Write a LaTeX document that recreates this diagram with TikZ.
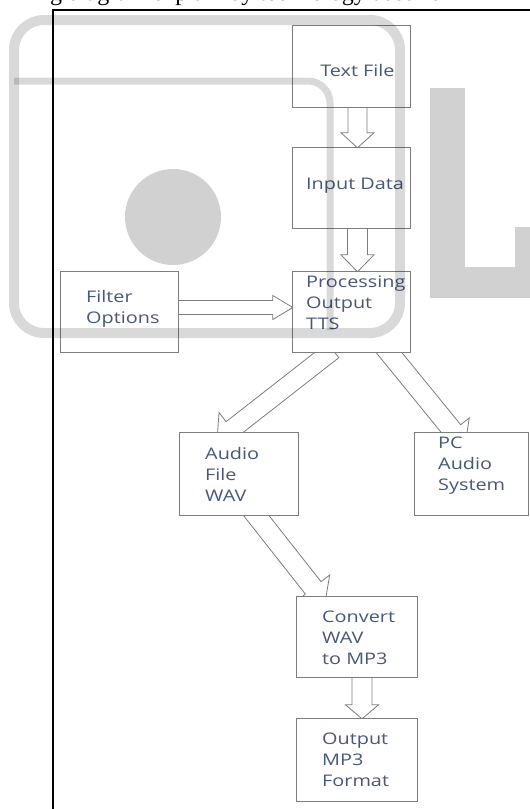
\documentclass[tikz,border=0pt]{standalone}
\usepackage{fontspec}
\setmainfont{Open Sans}[FakeStretch=1.24]
\newfontfamily\serifx{Liberation Serif}
\usetikzlibrary{calc}

\definecolor{boxline}{RGB}{125,125,125}
\definecolor{txt}{RGB}{72,88,120}

\tikzset{
  box/.style={draw=boxline, line width=0.9pt, fill=white, inner sep=0pt},
  lbl/.style={text=txt, font=\fontsize{16}{21}\selectfont, align=left, inner sep=0pt},
  barrow/.style={draw=boxline, line width=0.8pt, fill=white, line join=miter},
  wmline/.style={draw=black, opacity=0.15},
  wmfill/.style={fill=black, opacity=0.18},
}

% block arrow: #1 start, #2 tip, #3 shaft half width, #4 head half width, #5 head length
\newcommand\blockarrow[5]{%
  \coordinate (baC) at ($(#2)!#5pt!(#1)$);
  \draw[barrow] ($(#1)!#3pt!90:(#2)$) -- ($(baC)!#3pt!-90:(#1)$) -- ($(baC)!#4pt!-90:(#1)$)
     -- (#2) -- ($(baC)!#4pt!90:(#1)$) -- ($(baC)!#3pt!90:(#1)$) -- ($(#1)!#3pt!-90:(#2)$) -- cycle;
}

\begin{document}
\begin{tikzpicture}[x=1pt, y=-1pt]
\useasboundingbox (0,0) rectangle (530,809);

% cut-off line of text above the frame: only its descenders fall inside the page
\node[anchor=base west, inner sep=0pt, outer sep=0pt] (toptext) at (38,0.5)
  {\serifx\fontsize{24}{28}\selectfont ng diagram explain by technology used for};

% frame
\draw[line width=1.4pt] (53,810) -- (53,10) -- (531,10);

% box placeholders
\coordinate (tfc) at (351.5,66.5);
\coordinate (inc) at (351.5,188);
\coordinate (prc) at (351.5,312);
\coordinate (flc) at (119.5,312);
\coordinate (auc) at (239,474);
\coordinate (pcc) at (471.5,474);
\coordinate (cvc) at (357,637);
\coordinate (otc) at (357,760);

\path (tfc) node[minimum width=117pt, minimum height=81pt, inner sep=0pt] (tf) {};
\path (inc) node[minimum width=117pt, minimum height=80pt, inner sep=0pt] (in) {};
\path (prc) node[minimum width=117pt, minimum height=80pt, inner sep=0pt] (proc) {};
\path (flc) node[minimum width=117pt, minimum height=80pt, inner sep=0pt] (filt) {};
\path (auc) node[minimum width=118pt, minimum height=82pt, inner sep=0pt] (audio) {};
\path (pcc) node[minimum width=113pt, minimum height=82pt, inner sep=0pt] (pc) {};
\path (cvc) node[minimum width=120pt, minimum height=80pt, inner sep=0pt] (conv) {};
\path (otc) node[minimum width=120pt, minimum height=82pt, inner sep=0pt] (out) {};

% arrow end points
\coordinate (a1s) at ($(tf.south)+(6,-5)$);
\coordinate (a1e) at ($(in.north)+(6,0)$);
\coordinate (a2s) at ($(in.south)+(6,-5)$);
\coordinate (a2e) at ($(proc.north)+(6,0)$);
\coordinate (a3s) at ($(filt.east)+(-5,-4.5)$);
\coordinate (a3e) at ($(proc.west)+(0,-4.5)$);
\coordinate (a4s) at ($(proc.south)+(-18.5,-2)$);
\coordinate (a4e) at ($(audio.north)+(-22,8)$);
\coordinate (a5s) at ($(proc.south)+(31.5,-7)$);
\coordinate (a5e) at ($(pc.north)+(-6.5,13)$);
\coordinate (a6s) at ($(audio.south)+(13,-5)$);
\coordinate (a6e) at ($(conv.north)+(-32,6)$);
\coordinate (a7s) at ($(conv.south)+(5,-5)$);
\coordinate (a7e) at ($(out.north)+(5,0)$);

\blockarrow{a1s}{a1e}{9.5}{16.5}{15}
\blockarrow{a2s}{a2e}{10}{16.5}{17}
\blockarrow{a3s}{a3e}{7}{12}{20}
\blockarrow{a4s}{a4e}{9.5}{21}{19}
\blockarrow{a5s}{a5e}{10}{21}{19}
\blockarrow{a6s}{a6e}{10}{21}{19}
\blockarrow{a7s}{a7e}{10}{16.5}{14}

% boxes drawn over the arrows
\foreach \b in {tf,in,proc,filt,audio,pc,conv,out}{
  \draw[box] (\b.north west) rectangle (\b.south east);
}

% labels
\node[lbl] (ltf) at (357.5,70) {Text File};
\node[lbl, anchor=west] (lin) at (306,186) {Input Data};
\node[lbl, anchor=west] (lpr) at (306,302.5) {Processing\\Output\\TTS};
\node[lbl, anchor=west] (lfl) at (86,309) {Filter\\Options};
\node[lbl, anchor=west] (lau) at (205,474.5) {Audio\\File\\WAV};
\node[lbl, anchor=west] (lpc) at (438,466) {PC\\Audio\\System};
\node[lbl, anchor=west] (lcv) at (322,638) {Convert\\WAV\\to MP3};
\node[lbl, anchor=west] (lot) at (322,760) {Output\\MP3\\Format};

% faint watermark over the picture
\draw[wmline, line width=10pt, rounded corners=30pt] (14,20) rectangle (400,333);
\draw[wmline, line width=7pt, rounded corners=22pt] (14,81) -- (330,81) -- (330,330);
\fill[wmfill] (173,217) circle (48);
\fill[wmfill] (430,88) rectangle (465,298);
\fill[wmfill] (465,267) rectangle (530,298);
\fill[wmfill] (515,227) rectangle (530,267);
\end{tikzpicture}
\end{document}
